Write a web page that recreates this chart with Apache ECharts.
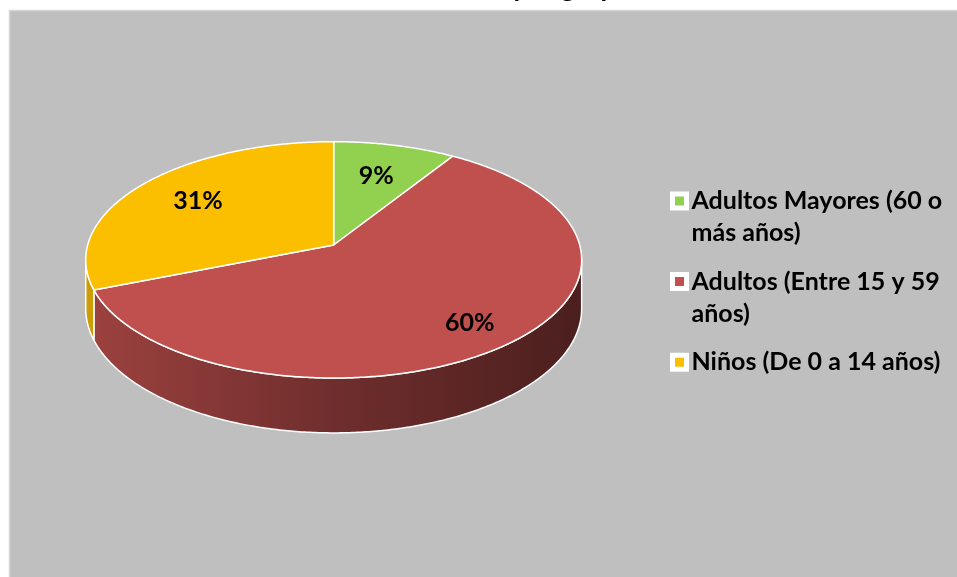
<!DOCTYPE html>
<html>
<head>
<meta charset="utf-8">
<script src="https://cdn.jsdelivr.net/npm/echarts@6/dist/echarts.min.js"></script>
<style>
  html, body { margin: 0; padding: 0; background: #ffffff; }
  #chart { width: 957px; height: 577px; }
</style>
</head>
<body>
<div id="chart"></div>
<script>
// Population shares by age group (percent)
const categories = ['Adultos Mayores (60 o más años)', 'Adultos (Entre 15 y 59 años)', 'Niños (De 0 a 14 años)'];
const values = [9, 60, 31];
const legendLines = ['Adultos Mayores (60 o\nmás años)', 'Adultos (Entre 15 y 59\naños)', 'Niños (De 0 a 14 años)'];
const colors = ['#92d050', '#c0504d', '#fbbf00'];
const titleText = 'Población por grupo de edad';

const FONT = 'Lato, "Open Sans", sans-serif';

// Perspective projection of the tilted pie disc
const CX = 333.7, CY = 245;      // projected centre of the disc
const AX = 246, BY = 116.3;      // horizontal / vertical radii
const K = 0.1257;                // perspective strength
const DEPTH = 48;                // thickness of the pie
const FRONT0 = Math.asin(K), FRONT1 = Math.PI - Math.asin(K);
const LABEL_R = [0.67, 0.8, 0.7];

function proj(r, t) {
  const u = r * Math.cos(t), v = r * Math.sin(t);
  const w = 1 - K * v;
  return [CX + AX * u / w, CY + BY * v / w, w];
}

const total = values.reduce((a, b) => a + b, 0);
function sliceRange(i) {
  let s = -Math.PI / 2;
  for (let j = 0; j < i; j++) s += values[j] / total * 2 * Math.PI;
  return [s, s + values[i] / total * 2 * Math.PI];
}

function shade(hex, f) {
  const n = parseInt(hex.slice(1), 16);
  const r = Math.round(((n >> 16) & 255) * f), g = Math.round(((n >> 8) & 255) * f), b = Math.round((n & 255) * f);
  return 'rgb(' + r + ',' + g + ',' + b + ')';
}

function arcPoints(a0, a1) {
  const pts = [];
  const steps = Math.max(2, Math.ceil((a1 - a0) / 0.01));
  for (let s = 0; s <= steps; s++) pts.push(proj(1, a0 + (a1 - a0) * s / steps));
  return pts;
}

function makeRenderer(i) {
  return function (params, api) {
    const [a0, a1] = sliceRange(i);
    const children = [];
    // visible outer wall
    const s0 = Math.max(a0, FRONT0), s1 = Math.min(a1, FRONT1);
    if (s1 > s0) {
      const topEdge = arcPoints(s0, s1);
      const bottomEdge = topEdge.map(p => [p[0], p[1] + DEPTH / p[2]]).reverse();
      const c = colors[i];
      children.push({
        type: 'polygon',
        z2: 1,
        shape: { points: topEdge.map(p => [p[0], p[1]]).concat(bottomEdge) },
        style: {
          fill: {
            type: 'linear', x: CX - AX * 1.01, y: 0, x2: CX + AX * 1.01, y2: 0, global: true,
            colorStops: [
              { offset: 0, color: shade(c, 0.82) },
              { offset: 0.5, color: shade(c, 0.58) },
              { offset: 1, color: shade(c, 0.39) }
            ]
          },
          stroke: '#ffffff', lineWidth: 1.5, lineJoin: 'round'
        }
      });
    }
    // top face
    const top = [[CX, CY]].concat(arcPoints(a0, a1).map(p => [p[0], p[1]]));
    children.push({
      type: 'polygon',
      z2: 10,
      shape: { points: top },
      style: { fill: colors[i], stroke: '#ffffff', lineWidth: 1.5, lineJoin: 'round' }
    });
    // percentage label
    const mid = (a0 + a1) / 2;
    const lp = proj(LABEL_R[i], mid);
    children.push({
      type: 'text',
      z2: 20,
      x: lp[0], y: lp[1],
      style: {
        text: Math.round(api.value(0) / total * 100) + '%',
        fill: '#000000',
        font: 'bold 25px ' + FONT,
        align: 'center', verticalAlign: 'middle'
      }
    });
    return { type: 'group', children: children };
  };
}

// Every legend entry is laid out as three text rows with the marker beside the
// first visible row, so the gap between entries stays uniform.
const LINE_H = 32;
function legendText(name) {
  const t = legendLines[categories.indexOf(name)];
  return '\n' + t + (t.indexOf('\n') >= 0 ? '' : '\n');
}

const chart = echarts.init(document.getElementById('chart'), null, { renderer: 'canvas' });
chart.setOption({
  animation: false,
  backgroundColor: '#ffffff',
  title: {
    text: titleText,
    left: 384, top: -30,
    textStyle: { fontFamily: FONT, fontWeight: 'bold', fontSize: 27, color: '#000000' }
  },
  graphic: [{
    type: 'rect', z: -10,
    shape: { x: 9.5, y: 10.5, width: 960, height: 600 },
    style: { fill: '#bfbfbf', stroke: '#d6d6d6', lineWidth: 1.5 }
  }],
  legend: {
    orient: 'vertical',
    left: 665, top: 148,
    itemGap: 80.6 - 3 * LINE_H,
    icon: 'rect',
    itemWidth: 14, itemHeight: 14,
    itemStyle: { borderColor: '#ffffff', borderWidth: 5 },
    formatter: legendText,
    textStyle: {
      fontFamily: FONT, fontWeight: 'bold', fontSize: 25, color: '#000000',
      lineHeight: LINE_H
    },
    data: categories
  },
  series: categories.map((name, i) => ({
    type: 'custom',
    name: name,
    coordinateSystem: 'none',
    itemStyle: { color: colors[i] },
    renderItem: makeRenderer(i),
    data: [values[i]]
  }))
});
</script>
</body>
</html>
